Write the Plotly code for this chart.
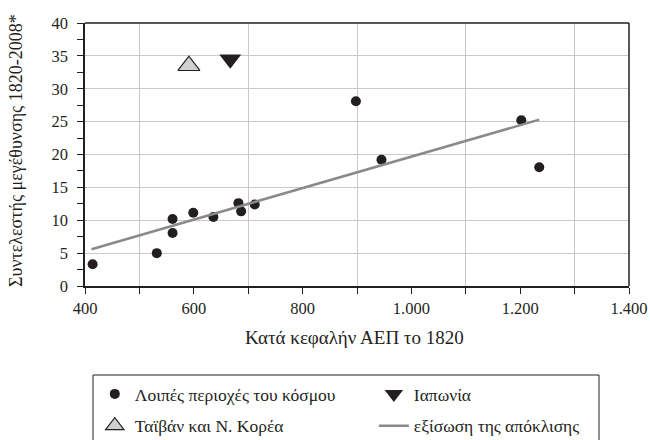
import plotly.graph_objects as go

# Data
others_x = [414, 532, 561, 561, 599, 636, 682, 687, 712, 898, 945, 1202, 1235]
others_y = [3.3, 5.0, 10.2, 8.05, 11.15, 10.5, 12.6, 11.35, 12.4, 28.1, 19.2, 25.2, 18.06]
japan_x = [667]
japan_y = [34.5]
taiwan_x = [591]
taiwan_y = [33.5]
reg_x = [412, 1235]
reg_y = [5.6, 25.3]

x_tickvals = [400, 600, 800, 1000, 1200, 1400]
x_ticktext = ["400", "600", "800", "1.000", "1.200", "1.400"]
y_tickvals = [0, 5, 10, 15, 20, 25, 30, 35, 40]

names = ["Λοιπές περιοχές του κόσμου", "Ιαπωνία", "Ταϊβάν και Ν. Κορέα", "εξίσωση της απόκλισης"]
x_title = "Κατά κεφαλήν ΑΕΠ το 1820"
y_title = "Συντελεστής μεγέθυνσης 1820-2008*"

INK = "#231f20"
GRID = "#c9c9c9"
FONT = "Liberation Serif"

PW, PH = 544, 263          # plot area size in pixels
X0, Y0 = 85, 286           # plot area left / bottom on screen


def px(sx):
    return (sx - X0) / PW


def py(sy):
    return (Y0 - sy) / PH


fig = go.Figure()
fig.add_trace(go.Scatter(x=others_x, y=others_y, mode="markers", name=names[0],
                         legend="legend", legendgroup="a",
                         marker=dict(symbol="circle", size=10, color=INK)))
fig.add_trace(go.Scatter(x=japan_x, y=japan_y, mode="markers", name=names[1],
                         legend="legend2", legendgroup="b",
                         marker=dict(symbol="triangle-down", size=19, color=INK)))
fig.add_trace(go.Scatter(x=taiwan_x, y=taiwan_y, mode="markers", name=names[2],
                         legend="legend", legendgroup="c",
                         marker=dict(symbol="triangle-up", size=19, color="#d0d0d0",
                                     line=dict(color=INK, width=1.2))))
fig.add_trace(go.Scatter(x=reg_x, y=reg_y, mode="lines", name=names[3],
                         legend="legend2", legendgroup="d",
                         line=dict(color="#8a8a8a", width=2.5)))

axis_common = dict(showline=True, linecolor=INK, linewidth=1.5, mirror=False,
                   tickcolor=INK, zeroline=False, tickfont=dict(size=16.5))

legend_common = dict(orientation="v", yanchor="top", xanchor="left",
                     bgcolor="rgba(0,0,0,0)", borderwidth=0, tracegroupgap=6,
                     font=dict(size=17.5, family=FONT, color=INK))

fig.update_layout(
    width=650, height=440,
    margin=dict(l=85, r=21, t=23, b=154, autoexpand=False),
    paper_bgcolor="white", plot_bgcolor="white",
    font=dict(family=FONT, size=17, color=INK),
    xaxis=dict(range=[400, 1400], tickvals=x_tickvals, ticktext=x_ticktext,
               ticks="outside", ticklen=6, showgrid=False, ticklabelstandoff=0,
               minor=dict(tick0=500, dtick=200, ticks="outside", ticklen=6,
                          showgrid=True, gridcolor=GRID, gridwidth=1.2,
                          tickcolor=INK),
               **axis_common),
    yaxis=dict(range=[0, 40], tickvals=y_tickvals, ticks="outside", ticklen=6,
               showgrid=True, gridcolor=GRID, gridwidth=1.2, ticklabelstandoff=6,
               minor=dict(dtick=2.5, ticks="outside", ticklen=6, tickcolor=INK),
               **axis_common),
    xaxis2=dict(overlaying="x", anchor="y", range=[400, 1400], tickvals=x_tickvals,
                showticklabels=False, ticks="inside", ticklen=6, showgrid=False,
                minor=dict(tick0=500, dtick=200, ticks="inside", ticklen=6, tickcolor=INK),
                showline=False, tickcolor=INK, zeroline=False),
    yaxis2=dict(overlaying="y", anchor="x", range=[0, 40], tickvals=y_tickvals,
                showticklabels=False, ticks="inside", ticklen=6, showgrid=False,
                minor=dict(dtick=2.5, ticks="inside", ticklen=6, tickcolor=INK),
                showline=False, tickcolor=INK, zeroline=False),
    legend=dict(x=0.018, y=py(376), **legend_common),
    legend2=dict(x=0.531, y=py(376), **legend_common),
    showlegend=True,
)

# axis titles
fig.add_annotation(text=x_title, xref="paper", yref="paper", x=px(354), y=py(337),
                   xanchor="center", yanchor="middle", showarrow=False,
                   font=dict(size=19, family=FONT, color=INK))
fig.add_annotation(text=y_title, xref="paper", yref="paper", x=px(16), y=py(151),
                   xanchor="center", yanchor="middle", showarrow=False, textangle=-90,
                   font=dict(size=18, family=FONT, color=INK))

# top and right frame of the plot
fig.add_shape(type="line", xref="paper", yref="paper", x0=0, x1=1, y0=1, y1=1,
              line=dict(color=INK, width=1.5))
fig.add_shape(type="line", xref="paper", yref="paper", x0=1, x1=1, y0=0, y1=1,
              line=dict(color=INK, width=1.5))
# legend frame
fig.add_shape(type="rect", xref="paper", yref="paper",
              x0=px(93), x1=px(599), y0=py(446), y1=py(375),
              line=dict(color=INK, width=1), fillcolor="rgba(0,0,0,0)", layer="below")

# remove the browser's default 8px body margin so the figure fills the window
fig.write_html("out.html", config={"displayModeBar": False},
               post_script="document.body.style.margin='0';document.body.style.overflow='hidden';")
